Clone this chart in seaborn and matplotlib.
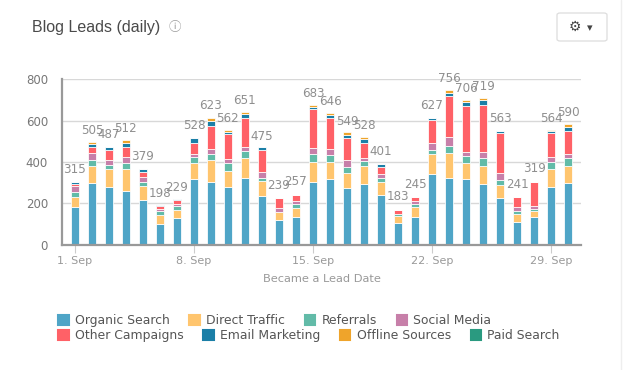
import pandas as pd
import seaborn as sns
import matplotlib.pyplot as plt
from matplotlib.lines import Line2D
from matplotlib.patches import Patch, FancyBboxPatch

days = list(range(1, 31))
organic = [184, 300, 281, 261, 218, 102, 131, 319, 305, 281, 324, 237, 121, 135, 305,
           319, 276, 295, 242, 106, 135, 344, 324, 319, 295, 227, 111, 135, 281, 300]
direct = [48, 82, 87, 106, 68, 44, 39, 77, 106, 77, 97, 73, 39, 44, 97,
          82, 73, 87, 63, 34, 48, 97, 121, 77, 87, 63, 39, 29, 87, 82]
referrals = [24, 29, 19, 29, 19, 15, 15, 27, 29, 39, 34, 15, 0, 19, 39,
             34, 29, 24, 19, 10, 15, 19, 34, 34, 39, 24, 15, 8, 34, 39]
social = [29, 32, 24, 29, 24, 11, 10, 16, 24, 19, 19, 29, 19, 11, 29,
          29, 34, 15, 19, 0, 15, 34, 44, 19, 29, 34, 15, 13, 21, 19]
other = [8, 29, 48, 47, 24, 13, 19, 53, 111, 121, 140, 102, 47, 31, 184,
         150, 102, 73, 34, 19, 18, 111, 194, 223, 227, 194, 53, 116, 115, 111]
email = [8, 16, 13, 21, 15, 8, 8, 24, 24, 10, 19, 15, 0, 0, 10,
         15, 15, 19, 15, 0, 0, 8, 19, 19, 24, 8, 0, 0, 10, 19]
offline = [0, 8, 0, 13, 0, 0, 0, 0, 13, 8, 8, 0, 0, 0, 13,
           8, 15, 8, 0, 0, 0, 0, 13, 8, 8, 0, 0, 0, 8, 13]
paid = [0] * 30
totals = [315, 505, 487, 512, 379, 198, 229, 528, 623, 562, 651, 475, 239, 257, 683,
          646, 549, 528, 401, 183, 245, 627, 756, 706, 719, 563, 241, 319, 564, 590]

series_names = ["Organic Search", "Direct Traffic", "Referrals", "Social Media",
                "Other Campaigns", "Email Marketing", "Offline Sources", "Paid Search"]
series_values = [organic, direct, referrals, social, other, email, offline, paid]
colors = ["#4fa5c7", "#ffc56e", "#62bba8", "#c77fa9",
          "#ff6167", "#1b7fa7", "#efa42b", "#2a9a80"]
tick_labels = ["1. Sep", "8. Sep", "15. Sep", "22. Sep", "29. Sep"]
y_ticks = [0, 200, 400, 600, 800]

sns.set_theme(style="white")
plt.rcParams["font.family"] = ["DejaVu Sans"]

W, H = 624, 370
fig = plt.figure(figsize=(W / 100, H / 100), dpi=100)
ax = fig.add_axes([62 / W, 1 - 244.7 / H, 519 / W, 165.4 / H])

# stack the series one on top of the other
df = pd.DataFrame(dict(zip(series_names, series_values)))
df["day"] = days
bottom = pd.Series([0] * len(days))
for name, color in zip(series_names, colors):
    if df[name].sum() > 0:
        sns.barplot(data=df, x="day", y=name, bottom=bottom, color=color, width=0.5,
                    edgecolor="white", linewidth=0.55, saturation=1, ax=ax, zorder=3)
    bottom = bottom + df[name]

for i, total in enumerate(totals):
    ax.annotate(str(total), (i, total), xytext=(0, 2.5), textcoords="offset points",
                ha="center", va="bottom", fontsize=8.6, color="#8f8f8f", zorder=5)

ax.set_xlim(-0.76, 29.76)
ax.set_ylim(0, 800)
ax.set_yticks(y_ticks)
ax.set_xticks([0, 7, 14, 21, 28])
ax.set_xticklabels(tick_labels)
ax.grid(axis="y", color="#d8d8d8", linewidth=1)
ax.set_axisbelow(True)
ax.tick_params(axis="x", length=6, width=0.8, color="#cccccc", labelcolor="#999999",
               labelsize=8, pad=2, bottom=True)
ax.tick_params(axis="y", length=0, labelcolor="#777777", labelsize=8.5, pad=10)
ax.set_xlabel("Became a Lead Date", fontsize=8.2, color="#999999", labelpad=6)
ax.set_ylabel("")
for side in ["top", "right"]:
    ax.spines[side].set_visible(False)
for side in ["left", "bottom"]:
    ax.spines[side].set_color("#999999")
    ax.spines[side].set_linewidth(1.6)
    ax.spines[side].set_zorder(10)

# legend rows do not line up in columns, so one legend per row
def legend_row(first, last, y):
    handles = [Patch(facecolor=c, edgecolor=c, linewidth=1.5, joinstyle="round", label=n)
               for n, c in zip(series_names[first:last], colors[first:last])]
    leg = fig.legend(handles=handles, loc="upper left", bbox_to_anchor=(58 / W, 1 - y / H),
                     ncol=4, frameon=False, fontsize=8.9, labelcolor="#555555", borderpad=0,
                     borderaxespad=0, handlelength=0.85, handleheight=0.85, handletextpad=0.5,
                     columnspacing=1.6)
    return leg

legend_row(0, 4, 314)
legend_row(4, 8, 329)

# card header
fig.text(32 / W, 1 - 27.5 / H, "Blog Leads (daily)", family="Liberation Sans", fontsize=11.5,
         color="#4a4a4a", va="center")
fig.text(175 / W, 1 - 27 / H, "\u24d8", family=["Noto Sans CJK SC", "DejaVu Sans"], fontsize=9,
         color="#999999", ha="center", va="center")
button = FancyBboxPatch((557 / W, 1 - 41 / H), 50 / W, 28 / H, transform=fig.transFigure,
                        boxstyle="round,pad=0,rounding_size=0.005", facecolor="white",
                        edgecolor="#dddddd", linewidth=0.9)
fig.add_artist(button)
fig.text(575 / W, 1 - 26.5 / H, "\u2699", fontsize=10, color="#444444", ha="center", va="center")
fig.text(590 / W, 1 - 28 / H, "\u25be", fontsize=8, color="#444444", ha="center", va="center")
fig.add_artist(Line2D([621 / W, 621 / W], [0, 1], color="#eeeeee", linewidth=1))

fig.savefig("out.png", dpi=100)
